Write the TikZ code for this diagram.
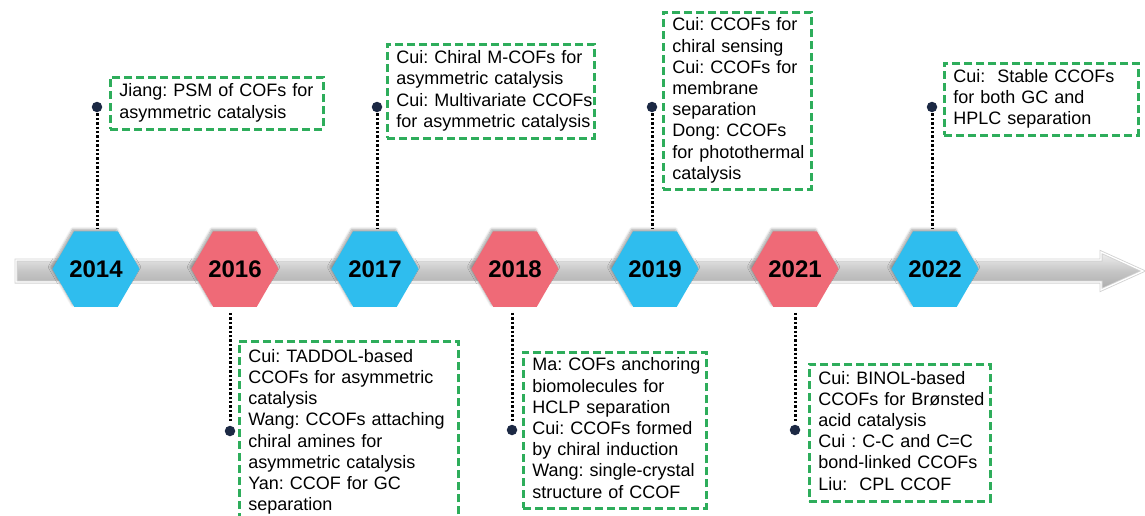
\documentclass[tikz,border=0pt]{standalone}
\usepackage{fontspec}
\setmainfont{Liberation Sans}
\usetikzlibrary{shapes.geometric,shadows.blur}
\frenchspacing
\definecolor{hexblue}{HTML}{2FBDEE}
\definecolor{hexpink}{HTML}{EF6A77}
\definecolor{boxgreen}{HTML}{2EAD5B}
\definecolor{dotnavy}{HTML}{1C2944}
\pgfdeclareverticalshading{barshade}{100bp}{color(0bp)=(gray!80); color(20bp)=(gray!70); color(50bp)=(gray!45); color(72bp)=(white!85!gray); color(86bp)=(gray!40); color(100bp)=(gray!55)}
\newcommand\boxlines[1]{\begin{tabular}{@{}l@{}}#1\end{tabular}}
\tikzset{
  hexnode/.style={regular polygon, regular polygon sides=6, minimum size=79pt, inner sep=0pt,
    font=\fontsize{24}{28}\selectfont\bfseries, text=black,
    blur shadow={shadow xshift=-1.5pt, shadow yshift=2pt, shadow blur steps=6, shadow blur radius=2.5pt, shadow opacity=35}},
  hexb/.style={hexnode, fill=hexblue},
  hexp/.style={hexnode, fill=hexpink},
  tdot/.style={circle, fill=dotnavy, minimum size=10.5pt, inner sep=0pt},
  dotline/.style={line width=3pt, dash pattern=on 2.4pt off 2pt},
  infobox/.style={draw=boxgreen, line width=2.6pt, dash pattern=on 8pt off 4pt,
    anchor=north west, inner xsep=9pt, inner ysep=0pt, align=left,
    font=\fontsize{18}{21.2}\selectfont},
}
\begin{document}
\begin{tikzpicture}[x=1pt,y=-1pt]
\useasboundingbox (0,0) rectangle (1145,515);
\clip (0,0) rectangle (1145,515);
% timeline bar with arrow head
\path[draw=gray!35, line width=3pt, shading=barshade]
  (16,260) -- (1101,260) -- (1101,252) -- (1143,271) -- (1101,290) -- (1101,282) -- (16,282) -- cycle;
\draw[white, line width=1.3pt]
  (16,260) -- (1101,260) -- (1101,252) -- (1143,271) -- (1101,290) -- (1101,282) -- (16,282) -- cycle;
% year hexagons
\node[hexb] (h2014) at (96,269) {2014};
\node[hexp] (h2016) at (235,269) {2016};
\node[hexb] (h2017) at (375,269) {2017};
\node[hexp] (h2018) at (515,269) {2018};
\node[hexb] (h2019) at (655,269) {2019};
\node[hexp] (h2021) at (795,269) {2021};
\node[hexb] (h2022) at (935,269) {2022};
% dots
\node[tdot] (d2014) at (97,107) {};
\node[tdot] (d2017) at (377,107) {};
\node[tdot] (d2019) at (652,107) {};
\node[tdot] (d2022) at (932,107) {};
\node[tdot] (d2016) at (230,431) {};
\node[tdot] (d2018) at (512,430) {};
\node[tdot] (d2021) at (795,430) {};
% dotted connectors
\foreach \y in {2014,2017,2019,2022}
  \draw[dotline, shorten <=1pt, shorten >=3pt] (d\y) -- (d\y |- h\y.north);
\foreach \y in {2016,2018,2021}
  \draw[dotline, shorten <=6pt, shorten >=4pt] (d\y |- h\y.south) -- (d\y);
% info boxes
\node[infobox, text width=195pt, minimum height=52pt] (b2014) at (109,76)
  {\boxlines{Jiang: PSM of COFs for\\asymmetric catalysis}};
\node[infobox, text width=189pt, minimum height=94pt] (b2017) at (386,43)
  {\boxlines{Cui: Chiral M-COFs for\\asymmetric catalysis\\Cui: Multivariate CCOFs\\for asymmetric catalysis}};
\node[infobox, text width=130pt, minimum height=177pt] (b2019) at (662,11)
  {\boxlines{Cui: CCOFs for\\chiral sensing\\Cui: CCOFs for\\membrane\\separation\\Dong: CCOFs\\for photothermal\\catalysis}};
\node[infobox, text width=176pt, minimum height=72pt] (b2022) at (943,62)
  {\boxlines{Cui:\ \ Stable CCOFs\\for both GC and\\HPLC separation}};
\node[infobox, text width=201pt, minimum height=182pt] (b2016) at (238,340)
  {\boxlines{Cui: TADDOL-based\\CCOFs for asymmetric\\catalysis\\Wang: CCOFs attaching\\chiral amines for\\asymmetric catalysis\\Yan: CCOF for GC\\separation}};
\node[infobox, text width=165pt, minimum height=156pt] (b2018) at (522,351)
  {\boxlines{Ma: COFs anchoring\\biomolecules for\\HCLP separation\\Cui: CCOFs formed\\by chiral induction\\Wang: single-crystal\\structure of CCOF}};
\node[infobox, text width=163pt, minimum height=137pt] (b2021) at (808,363)
  {\boxlines{Cui: BINOL-based\\CCOFs for Brønsted\\acid catalysis\\Cui : C-C and C=C\\bond-linked CCOFs\\Liu:\ \ CPL CCOF}};
\end{tikzpicture}
\end{document}
